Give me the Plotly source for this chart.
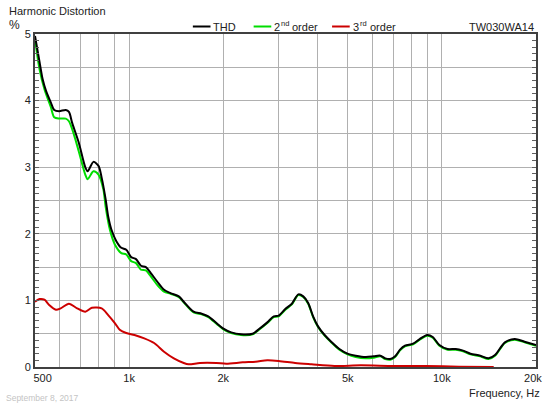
import plotly.graph_objects as go
import math

# ---------------- data ----------------
thd_freq = [500, 517, 529, 542, 562, 576, 597, 627, 642, 657, 690, 724, 737, 769, 798, 817, 841, 857,
            878, 910, 944, 979, 1015, 1052, 1091, 1131, 1173, 1231, 1293, 1356,
            1442, 1495, 1607, 1706, 1791, 1902, 1996, 2120, 2279, 2482, 2603, 2766, 2901, 3008, 3157,
            3314, 3476, 3604, 3737, 3875, 4018, 4218, 4427, 4702, 4993, 5306, 5705, 6058, 6358, 6593,
            6836, 7088, 7349, 7620, 8091, 8494, 8975, 9353, 9818, 10426, 11070, 11622, 12344, 13272,
            14103, 14793, 15905, 17100, 18385, 20000]
thd_val = [4.97, 4.58, 4.32, 4.15, 3.97, 3.86, 3.84, 3.86, 3.83, 3.67, 3.37, 3.00, 2.94, 3.08, 3.02, 2.84, 2.52, 2.26,
           2.06, 1.89, 1.79, 1.76, 1.65, 1.62, 1.52, 1.50, 1.41, 1.28, 1.16, 1.11,
           1.06, 0.98, 0.83, 0.80, 0.76, 0.66, 0.58, 0.52, 0.49, 0.50, 0.57, 0.67, 0.76, 0.77, 0.87,
           0.95, 1.09, 1.06, 0.96, 0.76, 0.61, 0.48, 0.38, 0.27, 0.20, 0.17, 0.15, 0.16, 0.17, 0.13,
           0.12, 0.16, 0.26, 0.32, 0.35, 0.42, 0.48, 0.45, 0.33, 0.27, 0.27, 0.25, 0.20, 0.17,
           0.13, 0.18, 0.37, 0.42, 0.38, 0.33]

h2_freq = [500, 517, 536, 562, 576, 597, 627, 642, 666, 690, 724, 737, 769, 798, 827, 841, 868, 900,
           944, 979, 1015, 1052, 1091, 1131, 1173, 1231, 1293, 1356,
           1442, 1495, 1607, 1706, 1791, 1902, 1996, 2120, 2279, 2482, 2603, 2766, 2901, 3008, 3157,
           3314, 3476, 3604, 3737, 3875, 4018, 4218, 4427, 4702, 4993, 5306, 5705, 6058, 6358, 6593,
           6836, 7088, 7349, 7620, 8091, 8494, 8975, 9353, 9818, 10426, 11070, 11622, 12344, 13272,
           14103, 14793, 15905, 17100, 18385, 20000]
h2_val = [4.92, 4.47, 4.17, 3.90, 3.75, 3.73, 3.73, 3.69, 3.49, 3.24, 2.89, 2.82, 2.94, 2.89, 2.67, 2.41, 2.06, 1.84,
          1.71, 1.69, 1.59, 1.56, 1.46, 1.45, 1.36, 1.23, 1.13, 1.10,
          1.05, 0.97, 0.82, 0.79, 0.75, 0.65, 0.57, 0.51, 0.48, 0.49, 0.56, 0.66, 0.75, 0.76, 0.86,
          0.94, 1.08, 1.05, 0.95, 0.75, 0.60, 0.47, 0.37, 0.26, 0.19, 0.15, 0.13, 0.14, 0.16, 0.12,
          0.11, 0.15, 0.25, 0.31, 0.34, 0.41, 0.47, 0.44, 0.32, 0.26, 0.26, 0.24, 0.19, 0.16,
          0.12, 0.17, 0.36, 0.41, 0.37, 0.32]

h3_freq = [500, 517, 536, 555, 583, 604, 642, 682, 724, 760, 817, 857, 900, 933, 979, 1040, 1118, 1202,
           1293, 1390, 1495, 1550, 1685, 1902, 2045, 2307, 2540, 2766, 3008, 3394, 3830, 4535, 5502,
           7002, 8891, 11348, 14650]
h3_val = [0.98, 1.02, 1.01, 0.93, 0.86, 0.88, 0.95, 0.88, 0.83, 0.89, 0.88, 0.78, 0.66, 0.56, 0.51, 0.48, 0.43, 0.36,
          0.23, 0.13, 0.06, 0.04, 0.06, 0.06, 0.05, 0.07, 0.08, 0.10, 0.09, 0.06, 0.04, 0.015, 0.025,
          0.015, 0.015, 0.005, 0.0]

x_tick_vals = [500, 600, 700, 800, 900, 1000, 2000, 3000, 4000, 5000, 6000, 7000, 8000, 9000, 10000, 20000]
x_tick_text = ["\u00a0\u00a0\u00a0\u00a0\u00a0500", "", "", "", "", "1k", "2k", "", "", "5k", "", "", "", "",
               "10k", "20k\u00a0\u00a0"]
y_tick_vals = [0, 0.5, 1, 1.5, 2, 2.5, 3, 3.5, 4, 4.5, 5]
y_tick_text = ["0", "", "1", "", "2", "", "3", "", "4", "", "5"]

# legend entries: (base text, superscript, rest, colour)
legend_labels = [("THD", "", ""), ("2", "nd", "order"), ("3", "rd", "order")]
legend_colors = ["#000000", "#00dd00", "#cc0000"]

# ---------------- layout helpers ----------------
W, H = 560, 406
L, R, T, B = 35, 14, 34, 39
PW, PH = W - L - R, H - T - B


def px(x):
    return (x - L) / PW


def py(y):
    return (H - B - y) / PH


FONT = "Liberation Sans, Arial, sans-serif"
TXT = "#222222"

fig = go.Figure()
fig.add_trace(go.Scatter(x=h3_freq, y=h3_val, mode="lines", name="3rd order",
                         line=dict(color=legend_colors[2], width=2, shape="spline", smoothing=0.8)))
fig.add_trace(go.Scatter(x=h2_freq, y=h2_val, mode="lines", name="2nd order",
                         line=dict(color=legend_colors[1], width=2, shape="spline", smoothing=0.8)))
fig.add_trace(go.Scatter(x=thd_freq, y=thd_val, mode="lines", name="THD",
                         line=dict(color=legend_colors[0], width=2, shape="spline", smoothing=0.8)))

shapes = []
annotations = []


def ann(text, x, y, size=11, color=TXT, xanchor="left"):
    annotations.append(dict(text=text, xref="paper", yref="paper", x=px(x), y=py(y),
                            xanchor=xanchor, yanchor="middle", showarrow=False,
                            font=dict(family=FONT, size=size, color=color)))


LEG_Y = 26.5
legend_x = [196, 258, 338]
for (base, sup, rest), color, x0 in zip(legend_labels, legend_colors, legend_x):
    shapes.append(dict(type="line", xref="paper", yref="paper", x0=px(x0), x1=px(x0 + 18),
                       y0=py(LEG_Y), y1=py(LEG_Y), line=dict(color=color, width=2)))
    ann(base, x0 + 19, LEG_Y)
    if sup:
        ann(sup, x0 + 26, LEG_Y - 3, size=7.5)
        ann(rest, x0 + 37, LEG_Y)

ann("TW030WA14", 546, LEG_Y, xanchor="right")
ann("Harmonic Distortion", 6, 11)
ann("%", 6, 25, size=12)
ann("Frequency, Hz", 552, 393, xanchor="right")
ann("September 8, 2017", 3, 398, size=8.5, color="#c4c4c4")

fig.update_layout(
    width=W, height=H,
    margin=dict(l=L, r=R, t=T, b=B, pad=0),
    paper_bgcolor="white", plot_bgcolor="white",
    showlegend=False,
    shapes=shapes, annotations=annotations,
    font=dict(family=FONT, size=11, color=TXT),
)
fig.update_xaxes(
    type="log", range=[math.log10(500), math.log10(20000)],
    tickmode="array", tickvals=x_tick_vals, ticktext=x_tick_text,
    showgrid=True, gridcolor="#b0b0b0", gridwidth=1,
    showline=True, linecolor="#404040", linewidth=2, mirror=True,
    ticks="", zeroline=False,
    tickfont=dict(family=FONT, size=11, color=TXT),
)
fig.update_yaxes(
    range=[0, 5],
    tickmode="array", tickvals=y_tick_vals, ticktext=y_tick_text,
    showgrid=True, gridcolor="#b0b0b0", gridwidth=1,
    showline=True, linecolor="#404040", linewidth=2, mirror="ticks",
    ticks="inside", ticklen=4, tickcolor="#606060",
    minor=dict(ticks="inside", ticklen=4, dtick=0.1, tick0=0, tickcolor="#606060", showgrid=False),
    zeroline=False,
    tickfont=dict(family=FONT, size=11, color=TXT),
)

fig.write_html("out.html")
